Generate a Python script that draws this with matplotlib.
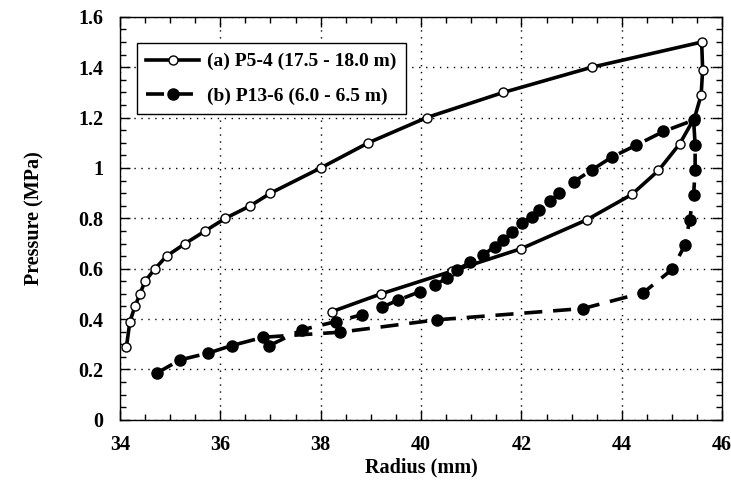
import matplotlib
matplotlib.use("Agg")
import matplotlib.pyplot as plt
from matplotlib.ticker import MultipleLocator

# (a) P5-4: loading then unloading, radius in mm, pressure in MPa
a_radius = [34.13, 34.20, 34.30, 34.40, 34.50, 34.70, 34.93, 35.30, 35.70, 36.10,
            36.60, 37.00, 38.00, 38.95, 40.11, 41.64, 43.40, 45.59,
            45.61, 45.58, 45.45, 45.15, 44.73, 44.20, 43.30, 42.00, 40.61,
            39.20, 38.23]
a_pressure = [0.29, 0.39, 0.45, 0.50, 0.55, 0.60, 0.65, 0.70, 0.75, 0.80,
              0.85, 0.90, 1.00, 1.10, 1.20, 1.30, 1.40, 1.50,
              1.39, 1.29, 1.20, 1.095, 0.99, 0.895, 0.794, 0.68, 0.59,
              0.50, 0.43]

# (b) P13-6
b_radius = [34.73, 35.20, 35.76, 36.23, 36.86, 38.39, 40.31, 43.23, 44.43,
            45.00, 45.26, 45.35, 45.43, 45.46, 45.46, 45.43,
            44.83, 44.28, 43.80, 43.40, 43.05, 42.74, 42.57, 42.34, 42.21,
            42.01, 41.81, 41.64, 41.47, 41.24, 40.98, 40.71, 40.51, 40.28,
            39.98, 39.55, 39.22, 38.82, 38.30, 37.62, 36.98]
b_pressure = [0.185, 0.238, 0.265, 0.295, 0.328, 0.348, 0.397, 0.442, 0.505,
              0.597, 0.695, 0.794, 0.893, 0.992, 1.092, 1.19,
              1.145, 1.09, 1.043, 0.992, 0.946, 0.90, 0.867, 0.834, 0.807,
              0.781, 0.745, 0.715, 0.688, 0.655, 0.626, 0.595, 0.562, 0.536,
              0.509, 0.476, 0.447, 0.417, 0.39, 0.357, 0.295]

labels = ["(a) P5-4 (17.5 - 18.0 m)", "(b) P13-6 (6.0 - 6.5 m)"]

plt.rcParams["font.family"] = ["Liberation Serif", "DejaVu Serif"]
plt.rcParams["font.weight"] = "bold"

fig = plt.figure(figsize=(7.31, 4.82), dpi=100)
ax = fig.add_axes([0.164, 0.129, 0.824, 0.836])

ax.plot(a_radius, a_pressure, color="black", linewidth=2.6, marker="o",
        markersize=6.5, markerfacecolor="white", markeredgecolor="black",
        markeredgewidth=1.0, label=labels[0], zorder=3)
ax.plot(b_radius, b_pressure, color="black", linewidth=2.6, linestyle=(0, (5, 3)),
        marker="o", markersize=8, markerfacecolor="black",
        markeredgecolor="black", label=labels[1], zorder=3)

ax.set_xlim(34, 46)
ax.set_ylim(0, 1.6)
ax.xaxis.set_major_locator(MultipleLocator(2))
ax.xaxis.set_minor_locator(MultipleLocator(0.5))
ax.yaxis.set_minor_locator(MultipleLocator(0.05))
ax.set_yticks([0, 0.2, 0.4, 0.6, 0.8, 1.0, 1.2, 1.4, 1.6])
ax.set_yticklabels(["0", "0.2", "0.4", "0.6", "0.8", "1", "1.2", "1.4", "1.6"])

ax.tick_params(which="both", direction="in", top=True, right=True,
               labelsize=14.5, width=1)
ax.tick_params(axis="x", pad=11)
ax.tick_params(axis="y", pad=12)
ax.tick_params(which="major", length=7)
ax.tick_params(which="minor", length=4)
for label in ax.get_xticklabels() + ax.get_yticklabels():
    label.set_fontweight("bold")

ax.grid(True, which="major", color="black", linestyle=(0, (1, 4)), linewidth=1.0)
for s in ax.spines.values():
    s.set_linewidth(1.0)

ax.set_xlabel("Radius (mm)", fontsize=14.5, fontweight="bold", labelpad=2)
ax.set_ylabel("Pressure (MPa)", fontsize=14.5, fontweight="bold", labelpad=24)

leg = ax.legend(loc="upper left", bbox_to_anchor=(0.028, 0.935), borderaxespad=0,
                fancybox=False, framealpha=1, edgecolor="black", fontsize=14,
                handlelength=2.7, borderpad=0.5, labelspacing=0.85,
                handletextpad=0.4)
leg.get_frame().set_linewidth(1.0)
for t in leg.get_texts():
    t.set_fontweight("bold")

fig.savefig("out.png", dpi=100, facecolor="white")
